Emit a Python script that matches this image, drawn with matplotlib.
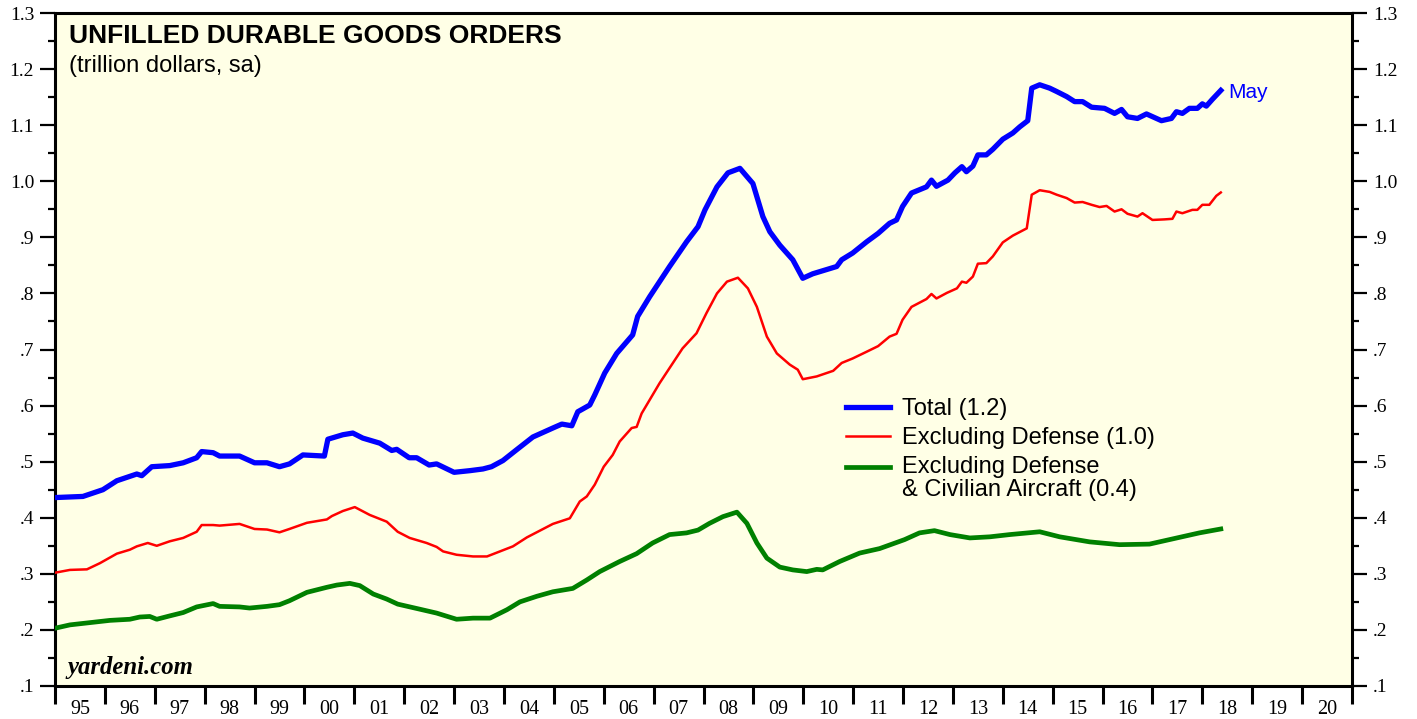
import numpy as np
import matplotlib
matplotlib.use('Agg')
import matplotlib.pyplot as plt
from matplotlib.ticker import FixedLocator, NullFormatter, FixedFormatter

# values (decimal year, trillion dollars)
total_dates = [1995.0, 1995.56, 1995.96, 1996.24, 1996.64, 1996.74, 1996.94, 1997.3, 1997.57,
               1997.84, 1997.94, 1998.17, 1998.3, 1998.7, 1999.0, 1999.25, 1999.5, 1999.7,
               1999.97, 2000.4, 2000.47, 2000.77, 2000.97, 2001.17, 2001.51, 2001.75, 2001.85,
               2002.1, 2002.25, 2002.5, 2002.65, 2003.0, 2003.32, 2003.58, 2003.75, 2003.98,
               2004.25, 2004.58, 2004.98, 2005.16, 2005.36, 2005.48, 2005.72, 2005.82, 2006.02,
               2006.26, 2006.58, 2006.68, 2006.92, 2007.32, 2007.66, 2007.89, 2008.03, 2008.27,
               2008.49, 2008.73, 2008.99, 2009.19, 2009.33, 2009.53, 2009.79, 2009.99, 2010.19,
               2010.67, 2010.77, 2010.99, 2011.27, 2011.5, 2011.73, 2011.87, 2011.99, 2012.17,
               2012.47, 2012.57, 2012.67, 2012.9, 2013.04, 2013.18, 2013.27, 2013.4, 2013.5,
               2013.67, 2013.8, 2014.0, 2014.2, 2014.34, 2014.5, 2014.58, 2014.74, 2014.94,
               2015.08, 2015.28, 2015.44, 2015.6, 2015.78, 2016.04, 2016.24, 2016.38, 2016.5,
               2016.7, 2016.88, 2017.18, 2017.38, 2017.48, 2017.6, 2017.74, 2017.9, 2018.0,
               2018.08, 2018.2, 2018.37]
total = [0.436, 0.438, 0.450, 0.466, 0.478, 0.475, 0.491, 0.493, 0.498,
         0.507, 0.518, 0.516, 0.510, 0.510, 0.498, 0.498, 0.491, 0.496,
         0.512, 0.510, 0.540, 0.548, 0.551, 0.542, 0.533, 0.520, 0.522,
         0.507, 0.507, 0.494, 0.496, 0.481, 0.484, 0.487, 0.491, 0.502,
         0.521, 0.544, 0.560, 0.567, 0.564, 0.589, 0.601, 0.619, 0.658,
         0.693, 0.726, 0.759, 0.794, 0.848, 0.892, 0.919, 0.949, 0.990,
         1.015, 1.023, 0.996, 0.937, 0.910, 0.886, 0.860, 0.827, 0.835,
         0.848, 0.860, 0.872, 0.892, 0.907, 0.925, 0.931, 0.955, 0.979,
         0.990, 1.002, 0.991, 1.002, 1.015, 1.026, 1.017, 1.027, 1.047,
         1.047, 1.057, 1.075, 1.086, 1.097, 1.108, 1.166, 1.172, 1.166,
         1.160, 1.151, 1.142, 1.142, 1.132, 1.130, 1.121, 1.128, 1.115,
         1.112, 1.120, 1.108, 1.112, 1.124, 1.121, 1.130, 1.130, 1.138,
         1.134, 1.146, 1.162]

exdef_dates = [1995.0, 1995.3, 1995.64, 1995.9, 1996.24, 1996.5, 1996.64, 1996.86, 1997.04,
               1997.3, 1997.57, 1997.84, 1997.94, 1998.17, 1998.3, 1998.7, 1999.0, 1999.25,
               1999.5, 1999.7, 2000.05, 2000.45, 2000.55, 2000.77, 2001.01, 2001.31, 2001.65,
               2001.87, 2002.11, 2002.45, 2002.65, 2002.78, 2003.05, 2003.38, 2003.66, 2003.92,
               2004.18, 2004.46, 2004.72, 2004.98, 2005.32, 2005.52, 2005.66, 2005.82, 2006.0,
               2006.18, 2006.32, 2006.56, 2006.66, 2006.76, 2007.12, 2007.32, 2007.58, 2007.86,
               2008.06, 2008.27, 2008.47, 2008.69, 2008.89, 2009.07, 2009.27, 2009.47, 2009.73,
               2009.89, 2009.99, 2010.27, 2010.6, 2010.77, 2010.99, 2011.27, 2011.5, 2011.73,
               2011.87, 2011.99, 2012.17, 2012.47, 2012.57, 2012.67, 2012.88, 2013.08, 2013.18,
               2013.27, 2013.4, 2013.5, 2013.67, 2013.8, 2014.0, 2014.2, 2014.48, 2014.58,
               2014.74, 2014.94, 2015.08, 2015.28, 2015.44, 2015.6, 2015.78, 2015.94, 2016.08,
               2016.24, 2016.38, 2016.5, 2016.7, 2016.8, 2017.0, 2017.24, 2017.4, 2017.48,
               2017.6, 2017.8, 2017.9, 2018.0, 2018.14, 2018.28, 2018.37]
exdef = [0.302, 0.307, 0.308, 0.319, 0.336, 0.343, 0.349, 0.355, 0.350,
         0.358, 0.364, 0.375, 0.387, 0.387, 0.386, 0.389, 0.380, 0.379,
         0.374, 0.380, 0.391, 0.397, 0.403, 0.412, 0.419, 0.405, 0.393,
         0.375, 0.364, 0.355, 0.348, 0.340, 0.334, 0.331, 0.331, 0.340,
         0.349, 0.365, 0.377, 0.389, 0.399, 0.429, 0.438, 0.459, 0.491,
         0.512, 0.536, 0.560, 0.562, 0.586, 0.640, 0.667, 0.702, 0.729,
         0.765, 0.800, 0.821, 0.828, 0.809, 0.776, 0.723, 0.693, 0.673,
         0.664, 0.647, 0.652, 0.662, 0.676, 0.684, 0.696, 0.706, 0.723,
         0.728, 0.753, 0.776, 0.790, 0.799, 0.791, 0.801, 0.809, 0.821,
         0.819, 0.830, 0.853, 0.854, 0.866, 0.891, 0.903, 0.916, 0.976,
         0.984, 0.981, 0.976, 0.970, 0.962, 0.963, 0.958, 0.954, 0.956,
         0.946, 0.950, 0.942, 0.937, 0.943, 0.931, 0.932, 0.933, 0.946,
         0.943, 0.949, 0.949, 0.958, 0.958, 0.974, 0.980]

core_dates = [1995.0, 1995.3, 1995.7, 1996.1, 1996.5, 1996.7, 1996.9, 1997.04, 1997.3,
              1997.57, 1997.84, 1998.17, 1998.3, 1998.7, 1998.9, 1999.25, 1999.5, 1999.7,
              2000.05, 2000.45, 2000.65, 2000.91, 2001.11, 2001.38, 2001.65, 2001.87, 2002.31,
              2002.65, 2003.05, 2003.38, 2003.72, 2004.06, 2004.32, 2004.66, 2004.98, 2005.38,
              2005.66, 2005.92, 2006.32, 2006.66, 2006.98, 2007.32, 2007.66, 2007.89, 2008.12,
              2008.39, 2008.67, 2008.87, 2009.07, 2009.27, 2009.53, 2009.79, 2010.07, 2010.27,
              2010.39, 2010.73, 2011.13, 2011.53, 2012.03, 2012.33, 2012.63, 2012.94, 2013.34,
              2013.74, 2014.14, 2014.74, 2015.14, 2015.74, 2016.34, 2016.94, 2017.34, 2017.94,
              2018.37]
core = [0.203, 0.209, 0.213, 0.217, 0.219, 0.223, 0.224, 0.219, 0.225,
        0.231, 0.241, 0.247, 0.242, 0.241, 0.239, 0.242, 0.245, 0.252,
        0.267, 0.276, 0.280, 0.283, 0.279, 0.264, 0.255, 0.246, 0.237,
        0.230, 0.219, 0.221, 0.221, 0.236, 0.250, 0.260, 0.268, 0.274,
        0.289, 0.304, 0.322, 0.336, 0.355, 0.370, 0.373, 0.378, 0.390,
        0.402, 0.410, 0.390, 0.355, 0.328, 0.312, 0.307, 0.304, 0.308,
        0.307, 0.322, 0.337, 0.345, 0.361, 0.373, 0.377, 0.370, 0.364,
        0.366, 0.370, 0.375, 0.366, 0.357, 0.352, 0.353, 0.361, 0.373,
        0.380]

year_labels = ['95', '96', '97', '98', '99', '00', '01', '02', '03', '04', '05', '06', '07',
               '08', '09', '10', '11', '12', '13', '14', '15', '16', '17', '18', '19', '20']
y_labels = ['.1', '.2', '.3', '.4', '.5', '.6', '.7', '.8', '.9', '1.0', '1.1', '1.2', '1.3']

serif = 'Liberation Serif'
sans = 'Liberation Sans'

fig = plt.figure(figsize=(14.17, 7.19), dpi=100)
ax = fig.add_axes([55 / 1417, 33 / 719, 1297 / 1417, 673 / 719])
ax.set_facecolor('#ffffe6')

ax.plot(total_dates, total, color='#0000ff', lw=3.8, solid_joinstyle='round',
        label='Total (1.2)', zorder=3)
ax.plot(exdef_dates, exdef, color='#ff0000', lw=1.8, solid_joinstyle='round',
        label='Excluding Defense (1.0)', zorder=3)
ax.plot(core_dates, core, color='#008000', lw=3.4, solid_joinstyle='round',
        label='Excluding Defense\n& Civilian Aircraft (0.4)', zorder=3)

ax.set_xlim(1995, 2021)
ax.set_ylim(0.1, 1.3)

for s in ax.spines.values():
    s.set_linewidth(2.2)

# x axis: year boundaries as ticks, labels centred between them
years = np.arange(1995, 2022)
ax.xaxis.set_major_locator(FixedLocator(years))
ax.xaxis.set_major_formatter(NullFormatter())
ax.xaxis.set_minor_locator(FixedLocator(years[:-1] + 0.5))
ax.xaxis.set_minor_formatter(FixedFormatter(year_labels))
ax.tick_params(axis='x', which='major', direction='out', length=13, width=2.2)
ax.tick_params(axis='x', which='minor', length=0, pad=10, labelsize=14.5)

# y axis: both sides
yt = np.round(np.arange(0.1, 1.31, 0.1), 2)
ax.yaxis.set_major_locator(FixedLocator(yt))
ax.yaxis.set_major_formatter(FixedFormatter(y_labels))
ax.yaxis.set_minor_locator(FixedLocator(yt[:-1] + 0.05))
ax.tick_params(axis='y', which='major', direction='out', length=11, width=1.6,
               left=True, right=True, labelleft=True, labelright=True, labelsize=14, pad=4)
ax.tick_params(axis='y', which='minor', direction='out', length=5, width=1.6,
               left=True, right=True)
for lab in ax.get_xticklabels(minor=True) + ax.get_yticklabels():
    lab.set_fontfamily(serif)

ax.text(0.011, 0.983, 'UNFILLED DURABLE GOODS ORDERS', transform=ax.transAxes,
        fontsize=19, fontweight='bold', fontfamily=sans, va='top', ha='left')
ax.text(0.011, 0.938, '(trillion dollars, sa)', transform=ax.transAxes,
        fontsize=17, fontfamily=sans, va='top', ha='left')
ax.text(0.01, 0.01, 'yardeni.com', transform=ax.transAxes, fontsize=17.8,
        fontweight='bold', fontstyle='italic', fontfamily=serif, va='bottom', ha='left')
ax.text(total_dates[-1] + 0.15, total[-1] - 0.004, 'May', color='#0000ff', fontsize=15,
        fontfamily=sans, va='center', ha='left')

leg = ax.legend(loc='upper left', bbox_to_anchor=(0.6095, 0.428), frameon=False,
                prop={'family': sans, 'size': 17}, handlelength=1.9, handletextpad=0.5,
                labelspacing=0.30, borderaxespad=0, borderpad=0)
for t in leg.get_texts():
    t.set_linespacing(1.08)
# two-line entry: put its line next to the first text line, as in the original
h = leg.legend_handles[2]
h.set_ydata(np.asarray(h.get_ydata()) + 8.5)

fig.savefig('out.png', dpi=100, facecolor='white')
